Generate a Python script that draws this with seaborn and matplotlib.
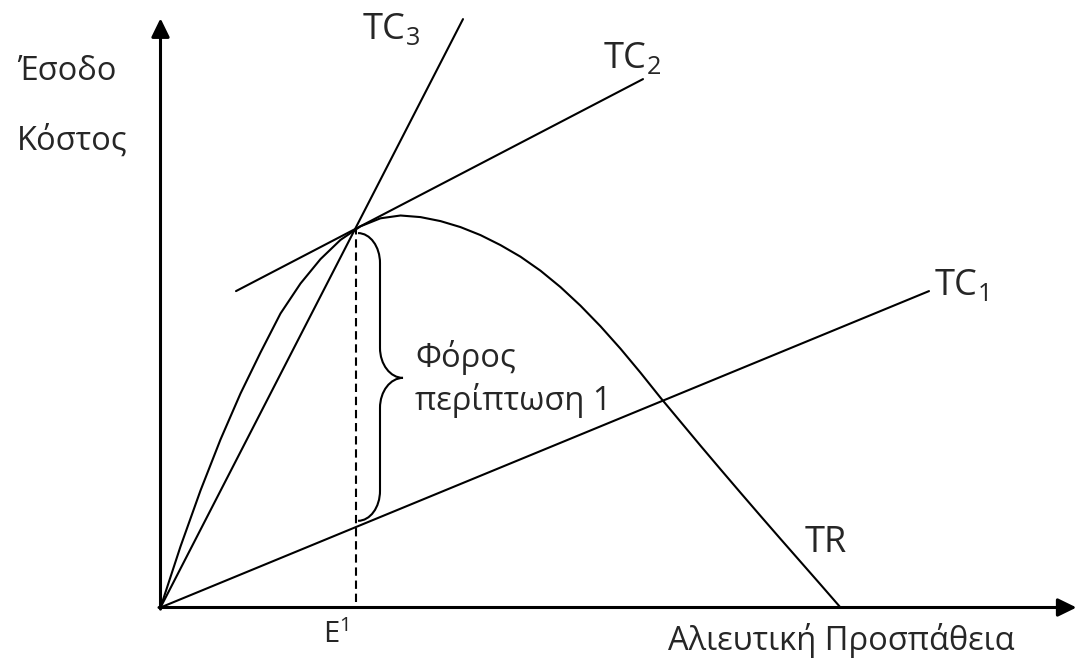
import numpy as np
import pandas as pd
import matplotlib
matplotlib.use("Agg")
import matplotlib.pyplot as plt
import seaborn as sns
from matplotlib.path import Path
from matplotlib.patches import PathPatch

# Συνολικό έσοδο (TR) ως προς την αλιευτική προσπάθεια
effort = list(range(0, 70, 2))
revenue = [0, 15.25, 29.25, 42, 53.5, 63.75, 73.5, 81, 87.1, 91.9, 95.3, 97.3,
           98, 97.6, 96.6, 95.1, 93.1, 90.6, 87.7, 84.2, 80.1, 75.45, 70.3,
           64.7, 58.7, 52.45, 46.45, 40.45, 34.55, 28.7, 22.9, 17.15, 11.45,
           5.75, 0]

# ευθείες κόστους (άκρα)
tc1_effort, tc1_cost = [0, 76.85], [0, 79.1]
tc2_effort, tc2_cost = [7.55, 48.25], [79.1, 132.1]
tc3_effort, tc3_cost = [0, 30.25], [0, 147.1]

e1 = 19.5  # σημείο E1
tr_e1 = 94.6
tc1_e1 = tc1_cost[1] / tc1_effort[1] * e1

sns.set_theme(style="white")
plt.rcParams["font.family"] = ["Open Sans", "DejaVu Sans"]
plt.rcParams["mathtext.fontset"] = "custom"
plt.rcParams["mathtext.rm"] = "Open Sans"
plt.rcParams["mathtext.it"] = "Open Sans"

fig = plt.figure(figsize=(10.77, 6.58), dpi=100)
ax = fig.add_axes([0, 0, 1, 1])
ax.set_xlim(-16.05, 91.65)
ax.set_ylim(-12.625, 151.875)
ax.axis("off")


def px(x, y):
    # θέση κειμένου από pixel σε μονάδες δεδομένων
    return (x - 160.5) / 10, (607.5 - y) / 4


lw = 1.5
df_tr = pd.DataFrame({"effort": effort, "revenue": revenue})
sns.lineplot(data=df_tr, x="effort", y="revenue", color="black", lw=lw, ax=ax, sort=False)
for ex, cs in [(tc1_effort, tc1_cost), (tc2_effort, tc2_cost), (tc3_effort, tc3_cost)]:
    sns.lineplot(x=ex, y=cs, color="black", lw=lw, ax=ax)

# διακεκομμένη στο E1
ax.plot([e1, e1], [1.5, tr_e1], color="black", lw=1.5, linestyle=(0, (4, 2.3)))

# άξονες με βέλη
arr = dict(arrowstyle="-|>,head_length=0.45,head_width=0.22", color="black",
           lw=2.2, mutation_scale=25, shrinkA=0, shrinkB=0)
ax.annotate("", xy=(91.6, 0), xytext=(-0.15, 0), arrowprops=arr)
ax.annotate("", xy=(0, 147.3), xytext=(0, -0.4), arrowprops=arr)

# άγκιστρο (φόρος)
x0, x1, x2 = e1 + 0.25, e1 + 2.45, e1 + 4.75
ytop, ybot = tr_e1 - 1.0, tc1_e1 + 1.6
ym = 57.4
r = 7.5
k = 0.552
verts = [(x0, ytop),
         (x0 + k * (x1 - x0), ytop), (x1, ytop - r + k * r), (x1, ytop - r),
         (x1, ym + r),
         (x1, ym + r - k * r), (x2 - k * (x2 - x1), ym), (x2, ym),
         (x2 - k * (x2 - x1), ym), (x1, ym - r + k * r), (x1, ym - r),
         (x1, ybot + r),
         (x1, ybot + r - k * r), (x0 + k * (x1 - x0), ybot), (x0, ybot)]
codes = [Path.MOVETO,
         Path.CURVE4, Path.CURVE4, Path.CURVE4,
         Path.LINETO,
         Path.CURVE4, Path.CURVE4, Path.CURVE4,
         Path.CURVE4, Path.CURVE4, Path.CURVE4,
         Path.LINETO,
         Path.CURVE4, Path.CURVE4, Path.CURVE4]
ax.add_patch(PathPatch(Path(verts, codes), fill=False, lw=1.5, ec="black"))

# κείμενα
fs = 23.5
ax.text(*px(17, 80), "Έσοδο", fontsize=fs, ha="left", va="baseline")
ax.text(*px(17, 150), "Κόστος", fontsize=fs, ha="left", va="baseline")
ax.text(*px(362, 39), r"TC$_\mathrm{3}$", fontsize=26, ha="left", va="baseline")
ax.text(*px(603, 68), r"TC$_\mathrm{2}$", fontsize=26, ha="left", va="baseline")
ax.text(*px(934, 295), r"TC$_\mathrm{1}$", fontsize=26, ha="left", va="baseline")
ax.text(*px(805, 552), "TR", fontsize=26, ha="left", va="baseline")
ax.text(*px(415, 367), "Φόρος", fontsize=fs, ha="left", va="baseline")
ax.text(*px(415, 410), "περίπτωση 1", fontsize=fs, ha="left", va="baseline")
ax.text(*px(323, 643), r"E$^\mathrm{1}$", fontsize=21, ha="left", va="baseline")
ax.text(*px(668, 650), "Αλιευτική Προσπάθεια", fontsize=fs, ha="left", va="baseline")

fig.savefig("out.png", dpi=100)
